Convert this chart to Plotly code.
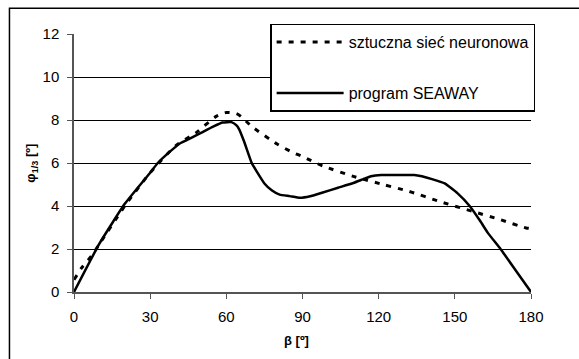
import plotly.graph_objects as go

# Data
beta_nn = [0, 3, 7, 10, 20, 30, 40, 48, 56, 60, 64, 66, 70, 80, 86, 90, 98, 110, 122, 132, 144, 157, 168, 178, 180]
phi_nn = [0.57, 1.12, 1.69, 2.23, 4.0, 5.55, 6.8, 7.4, 8.17, 8.35, 8.3, 8.14, 7.7, 6.88, 6.5, 6.3, 5.86, 5.38, 4.99, 4.68, 4.21, 3.75, 3.36, 2.98, 2.95]

beta_sw = [0, 10, 20, 30, 33, 38, 42, 45, 50, 55, 58.5, 62, 64, 65, 67, 70, 72, 75, 78, 81, 85, 89, 93, 98, 104, 110, 114, 117, 121, 128, 134, 137, 141, 146, 151, 156, 160, 163, 168, 174, 180]
phi_sw = [0, 2.25, 4.1, 5.55, 6.0, 6.55, 6.93, 7.1, 7.4, 7.7, 7.88, 7.9, 7.75, 7.58, 7.0, 6.0, 5.6, 5.05, 4.72, 4.53, 4.46, 4.38, 4.45, 4.63, 4.85, 5.07, 5.25, 5.38, 5.44, 5.44, 5.44, 5.38, 5.25, 5.05, 4.6, 3.98, 3.3, 2.75, 2.0, 1.0, 0.0]

x_ticks = [0, 30, 60, 90, 120, 150, 180]
y_ticks = [0, 2, 4, 6, 8, 10, 12]

FONT = "Liberation Sans, Arial, sans-serif"

fig = go.Figure()
fig.add_trace(go.Scatter(
    x=beta_nn, y=phi_nn, mode="lines", name="sztuczna sieć neuronowa",
    line=dict(color="black", width=3, dash="5px,7px", shape="spline", smoothing=0.6),
    legendgroup="a"))
fig.add_trace(go.Scatter(
    x=beta_sw, y=phi_sw, mode="lines", name="program SEAWAY",
    line=dict(color="black", width=2.5, shape="spline", smoothing=0.4),
    legendgroup="b"))

fig.update_layout(
    width=579, height=359,
    margin=dict(l=74, r=48.3, t=34.3, b=66.7),
    paper_bgcolor="white", plot_bgcolor="white",
    font=dict(family=FONT, size=15, color="black"),
    showlegend=True,
    legend=dict(
        x=(270 - 74) / 456.7, y=(292.3 - 24) / 258, xanchor="left", yanchor="top",
        bgcolor="white", bordercolor="black", borderwidth=1.5,
        font=dict(family=FONT, size=16, color="black"),
        tracegroupgap=27, itemwidth=67,
    ),
    xaxis=dict(
        range=[0, 180], tickvals=x_ticks, ticktext=[str(v) for v in x_ticks],
        showgrid=False, zeroline=False, showline=True, linecolor="#555", linewidth=1.5,
        ticks="outside", ticklen=5, tickcolor="#555", tickwidth=1.2,
        tickfont=dict(family=FONT, size=15), ticklabelstandoff=5,
    ),
    yaxis=dict(
        range=[0, 12], tickvals=y_ticks, ticktext=[str(v) for v in y_ticks],
        showgrid=True, gridcolor="black", gridwidth=1, zeroline=False,
        showline=True, linecolor="#555", linewidth=1.5,
        ticks="outside", ticklen=5, tickcolor="#555", tickwidth=1.2,
        tickfont=dict(family=FONT, size=15), ticklabelstandoff=5,
    ),
)

# outer chart frame (top and left edges visible)
fig.add_shape(type="rect", xref="paper", yref="paper",
              x0=(9.5 - 74) / 456.7, x1=2.0, y0=-2.0, y1=(292.3 - 8.5) / 258,
              line=dict(color="black", width=1.5), fillcolor="rgba(0,0,0,0)", layer="below")

# axis titles
fig.add_annotation(text="<b>β [º]</b>", xref="paper", yref="paper",
                   x=(296 - 74) / 456.7, y=(292.3 - 341) / 258, showarrow=False,
                   xanchor="center", yanchor="middle", font=dict(family=FONT, size=13))
fig.add_annotation(text="<b>φ<sub>1/3</sub> [º]</b>", xref="paper", yref="paper",
                   x=(32 - 74) / 456.7, y=(292.3 - 163) / 258, showarrow=False, textangle=-90,
                   xanchor="center", yanchor="middle", font=dict(family=FONT, size=13))

fig.write_html("out.html")
